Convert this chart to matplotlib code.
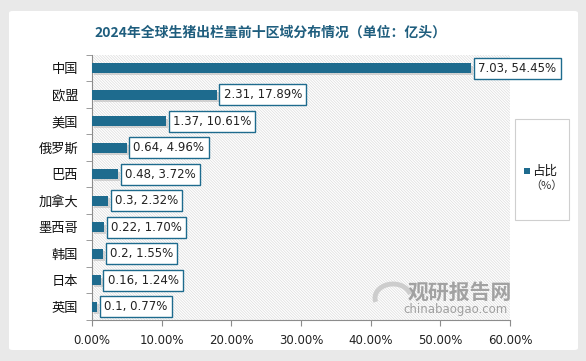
import matplotlib; matplotlib.use("Agg")
import matplotlib.pyplot as plt
import matplotlib.patheffects as pe
from matplotlib.patches import FancyBboxPatch, Rectangle, Arc

plt.rcParams["font.family"] = ["Noto Sans CJK SC", "DejaVu Sans"]

regions = ["中国", "欧盟", "美国", "俄罗斯", "巴西", "加拿大", "墨西哥", "韩国", "日本", "英国"]
volume = ["7.03", "2.31", "1.37", "0.64", "0.48", "0.3", "0.22", "0.2", "0.16", "0.1"]
share = [54.45, 17.89, 10.61, 4.96, 3.72, 2.32, 1.70, 1.55, 1.24, 0.77]
xticks = [0, 10, 20, 30, 40, 50, 60]

TEAL = "#1E6B8E"; TITLE = "#1F5E7E"; AXIS = "#8C8C8C"
W, H = 586, 361

fig = plt.figure(figsize=(W/100, H/100), dpi=100, facecolor="#E9E9E9")
# white card
card = FancyBboxPatch((9/W, 11/H), 569/W, 339/H, boxstyle="round,pad=0,rounding_size=0.006",
                      transform=fig.transFigure, fc="white", ec="none", zorder=-10)
fig.add_artist(card)

# legend box
fig.add_artist(Rectangle((515/W, 1-220/H), 54/W, 101/H, transform=fig.transFigure,
                         facecolor="white", edgecolor="#CFCFCF", linewidth=0.8, zorder=-5))
fig.add_artist(Rectangle((524/W, 1-174/H), 6/W, 6/H, transform=fig.transFigure,
                         facecolor=TEAL, edgecolor="none"))
fig.text(532/W, 1-171/H, "占比", fontsize=9, va="center", ha="left", color="#111111")
fig.text(546/W, 1-186/H, "（%）", fontsize=8, va="center", ha="center", color="#333333")

ax = fig.add_axes([92/W, 1-320/H, 418/W, 265/H])
ax.set_facecolor("white")
plt.rcParams["hatch.color"] = "#DCDCDC"
plt.rcParams["hatch.linewidth"] = 0.5
ax.add_patch(Rectangle((0, 0), 1, 1, transform=ax.transAxes, fc="white", ec="#DCDCDC",
                       hatch="\\" * 12, lw=0, zorder=0))

y = list(range(len(regions)))
bars = ax.barh(y, share, height=0.36, color=TEAL, zorder=3)
for b in bars:
    b.set_path_effects([pe.SimplePatchShadow(offset=(1.5, -1.5), shadow_rgbFace="#BBBBBB", alpha=0.6), pe.Normal()])

for yi, v, s in zip(y, volume, share):
    ax.annotate(f"{v}, {s:.2f}%", xy=(s, yi), xytext=(5, 0), textcoords="offset points",
                va="center", ha="left", fontsize=8.5, color="#222222", family="DejaVu Sans",
                bbox=dict(boxstyle="square,pad=0.35", fc="white", ec=TEAL, lw=1.0), zorder=5)

ax.set_xlim(0, 60)
ax.set_ylim(9.5, -0.5)
ax.set_xticks(xticks)
ax.set_xticklabels([f"{t:.2f}%" for t in xticks], fontsize=8.5, color="#222222", family="DejaVu Sans")
ax.set_yticks(y)
ax.set_yticklabels(regions, fontsize=9.5, color="#111111")
ax.set_yticks([i - 0.5 for i in range(len(regions) + 1)], minor=True)
ax.tick_params(axis="y", which="major", length=0, pad=10)
ax.tick_params(axis="y", which="minor", length=4, color=AXIS)
ax.tick_params(axis="x", length=4, color=AXIS, pad=6)
for sp in ["top", "right"]:
    ax.spines[sp].set_visible(False)
for sp in ["left", "bottom"]:
    ax.spines[sp].set_color(AXIS)
    ax.spines[sp].set_linewidth(0.8)

fig.text(270/W, 1-33/H, "2024年全球生猪出栏量前十区域分布情况（单位：亿头）", ha="center", va="center",
         fontsize=10, fontweight="bold", color=TITLE)

# watermark
fig.text(460/W, 1-292/H, "观研报告网", fontsize=15, fontweight="bold", color="#8E8E8E", alpha=0.8,
         ha="center", va="center")
fig.text(456/W, 1-309/H, "chinabaogao.com", fontsize=8.5, color="#A0A0A0", ha="center", va="center",
         family="DejaVu Sans")
fig.add_artist(Arc((393/W, 1-298/H), 36/W, 28/H, theta1=20, theta2=200, transform=fig.transFigure,
                   color="#C4C4C4", lw=3.5, alpha=0.8))

fig.savefig("out.png", dpi=100, facecolor=fig.get_facecolor())
